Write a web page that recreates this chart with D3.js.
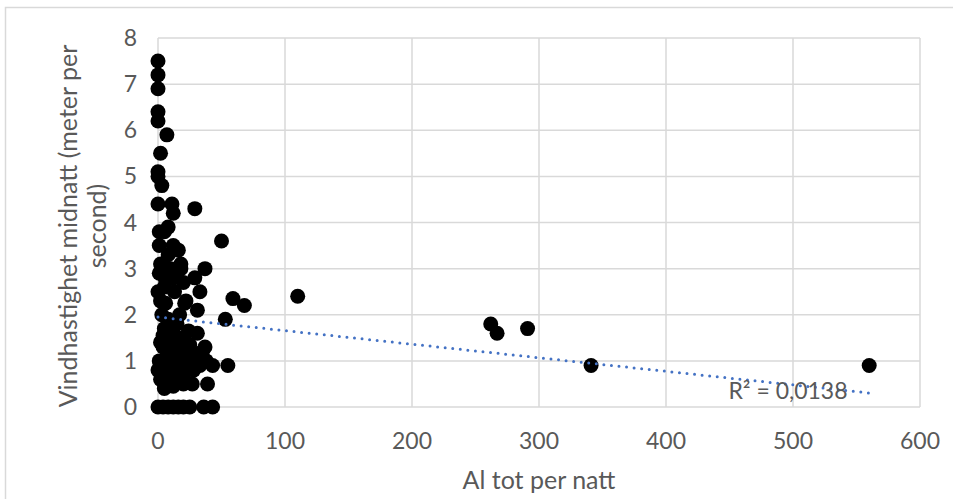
<!DOCTYPE html>
<html>
<head>
<meta charset="utf-8">
<script src="https://cdn.jsdelivr.net/npm/d3@7"></script>
<style>
  body { margin: 0; background: #fff; }
  text { font-family: Lato, "Open Sans", sans-serif; fill: #595959; }
</style>
</head>
<body>
<svg id="chart" width="953" height="499"></svg>
<script>
// AI tot per natt (x) vs vindhastighet midnatt (y)
const alTot = [
  0, 0, 0, 0, 0, 2, 0, 0, 3, 0, 1, 1, 2, 1, 0, 2, 0,
  7, 11, 29, 12, 8, 5, 50, 12, 16, 37, 4, 18, 10, 29, 20, 6, 33, 13, 59, 68, 110, 22, 6, 21, 31, 53,
  262, 267, 291, 341, 560, 55, 43, 39, 27,
  3, 8, 15, 5, 12, 31, 20, 2, 10, 25, 4, 15, 35, 8, 22, 30, 1, 12, 18, 5, 28, 10, 20, 3, 15, 33, 26, 9, 17, 6, 38, 37,
  5, 12, 20, 2, 26, 18, 7, 13, 24, 4, 10, 28, 16, 8, 15, 5, 12, 18,
  0, 4, 8, 12, 16, 20, 25, 36, 43
];
const vind = [
  7.5, 7.2, 6.9, 6.4, 6.2, 5.5, 5.1, 5.0, 4.8, 4.4, 3.8, 3.5, 3.1, 2.9, 2.5, 2.3, 0.8,
  5.9, 4.4, 4.3, 4.2, 3.9, 3.8, 3.6, 3.5, 3.4, 3.0, 3.1, 3.1, 3.0, 2.8, 2.7, 2.75, 2.5, 2.5, 2.35, 2.2, 2.4, 2.3, 2.25, 2.25, 2.1, 1.9,
  1.8, 1.6, 1.7, 0.9, 0.9, 0.9, 0.9, 0.5, 0.5,
  2.0, 1.9, 1.8, 1.7, 1.6, 1.6, 1.5, 1.4, 1.4, 1.35, 1.3, 1.2, 1.2, 1.1, 1.1, 1.0, 1.0, 1.0, 0.9, 0.9, 0.8, 0.8, 0.7, 0.7, 0.6, 0.9, 1.2, 1.7, 2.0, 0.6, 1.0, 1.3,
  0.4, 0.45, 0.5, 0.6, 0.85, 1.3, 1.25, 1.45, 1.65, 1.55, 1.15, 1.05, 0.95, 3.3, 2.9, 2.6, 2.8, 3.0,
  0, 0, 0, 0, 0, 0, 0, 0, 0
];
const xTicks = [0, 100, 200, 300, 400, 500, 600];
const yTicks = [0, 1, 2, 3, 4, 5, 6, 7, 8];
// linear trendline as shown in the chart
const trendIntercept = 1.95, trendSlope = -0.00294, trendEnd = 560;
const r2Label = "R² = 0,0138";

const svg = d3.select("#chart");
const m = { left: 158, right: 920, top: 38, bottom: 407 };
const x = d3.scaleLinear().domain([0, 600]).range([m.left, m.right]);
const y = d3.scaleLinear().domain([0, 8]).range([m.bottom, m.top]);

// chart area frame
svg.append("rect").attr("x", 5.5).attr("y", 7.5).attr("width", 1000).attr("height", 600)
  .attr("fill", "none").attr("stroke", "#d9d9d9").attr("stroke-width", 1.5);

// gridlines
svg.append("g").selectAll("line").data(yTicks).join("line")
  .attr("x1", m.left).attr("x2", m.right).attr("y1", d => y(d)).attr("y2", d => y(d))
  .attr("stroke", "#d9d9d9").attr("stroke-width", 1.5);
svg.append("g").selectAll("line").data(xTicks).join("line")
  .attr("x1", d => x(d)).attr("x2", d => x(d)).attr("y1", m.top).attr("y2", m.bottom)
  .attr("stroke", "#d9d9d9").attr("stroke-width", 1.5);

// tick labels
svg.append("g").selectAll("text").data(yTicks).join("text")
  .attr("x", 137).attr("y", d => y(d)).attr("dy", "0.35em").attr("text-anchor", "end")
  .attr("font-size", 23).text(d => d);
svg.append("g").selectAll("text").data(xTicks).join("text")
  .attr("x", d => x(d)).attr("y", 449).attr("text-anchor", "middle")
  .attr("font-size", 23).text(d => d);

// axis titles
svg.append("text").attr("x", (m.left + m.right) / 2).attr("y", 489).attr("text-anchor", "middle")
  .attr("font-size", 25).text("Al tot per natt");
const yt = svg.append("text").attr("transform", "translate(77,226) rotate(-90)")
  .attr("text-anchor", "middle").attr("font-size", 25);
yt.append("tspan").attr("x", 0).attr("y", 0).text("Vindhastighet midnatt (meter per");
yt.append("tspan").attr("x", 0).attr("y", 29).text("second)");

// points
const pts = alTot.map((d, i) => [d, vind[i]]);
svg.append("g").selectAll("circle").data(pts).join("circle")
  .attr("cx", d => x(d[0])).attr("cy", d => y(d[1])).attr("r", 7.5).attr("fill", "#000");

// trendline
svg.append("line")
  .attr("x1", x(0)).attr("y1", y(trendIntercept))
  .attr("x2", x(trendEnd)).attr("y2", y(trendIntercept + trendSlope * trendEnd))
  .attr("stroke", "#4472c4").attr("stroke-width", 3)
  .attr("stroke-linecap", "round").attr("stroke-dasharray", "0 7.6");

svg.append("text").attr("x", 788).attr("y", 399).attr("text-anchor", "middle")
  .attr("font-size", 23).text(r2Label);
</script>
</body>
</html>
